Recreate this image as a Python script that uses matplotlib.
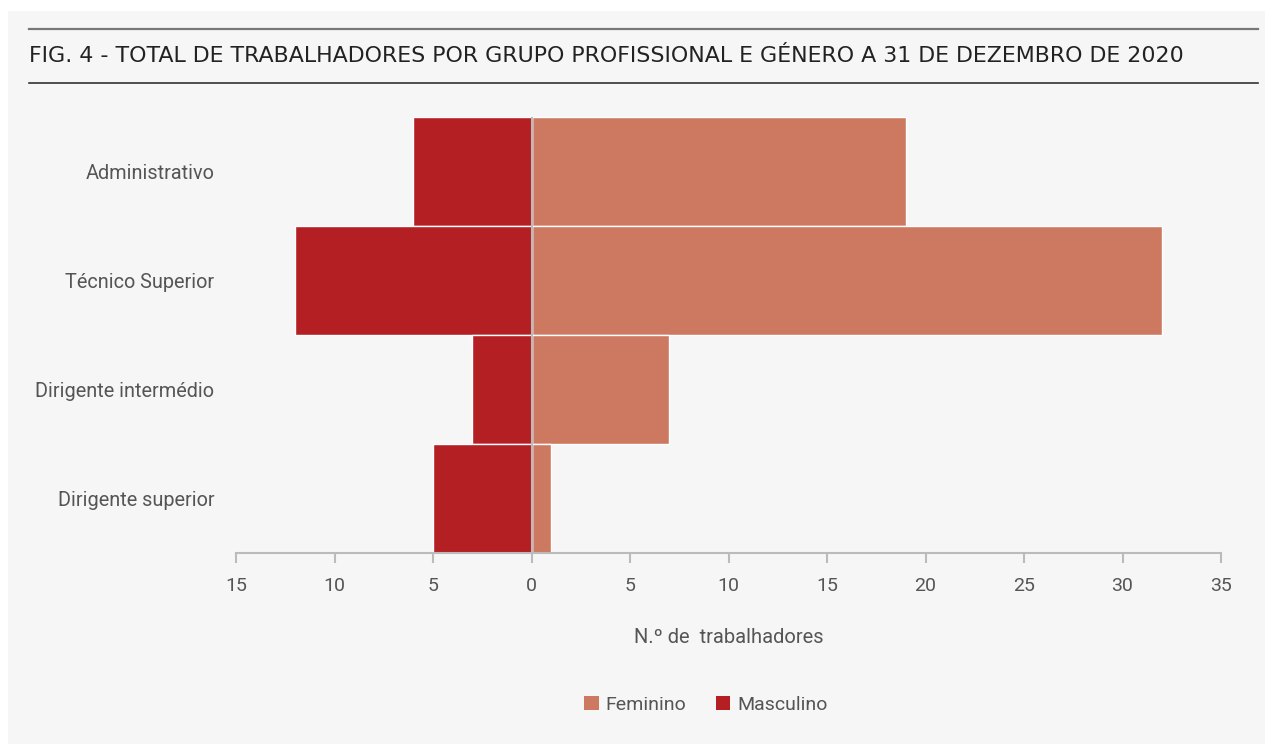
import matplotlib.pyplot as plt
from matplotlib.patches import Rectangle
from matplotlib.lines import Line2D

categories = ["Administrativo", "Técnico Superior", "Dirigente intermédio", "Dirigente superior"]
feminino = [19, 32, 7, 1]
masculino = [6, 12, 3, 5]
xticks = [-15, -10, -5, 0, 5, 10, 15, 20, 25, 30, 35]
xticklabels = ["15", "10", "5", "0", "5", "10", "15", "20", "25", "30", "35"]

W, H = 1265, 744
fig = plt.figure(figsize=(W / 100, H / 100), dpi=100)
fig.patch.set_facecolor("white")
fig.patches.append(Rectangle((8 / W, 0), 1 - 8 / W, 1 - 11 / H, transform=fig.transFigure,
                             facecolor="#f6f6f6", edgecolor="none", zorder=-5))
fig.add_artist(Line2D([29 / W, 1258 / W], [1 - 29 / H, 1 - 29 / H], color="#777777", lw=1.6))
fig.add_artist(Line2D([29 / W, 1258 / W], [1 - 83 / H, 1 - 83 / H], color="#333333", lw=1.2))
fig.text(29 / W, 1 - 56 / H, "FIG. 4 - TOTAL DE TRABALHADORES POR GRUPO PROFISSIONAL E GÉNERO A 31 DE DEZEMBRO DE 2020",
         fontsize=15.9, color="#222222", va="center", ha="left", family="DejaVu Sans")

ax = fig.add_axes([236 / W, 1 - 553 / H, (1221 - 236) / W, (553 - 117) / H])
ax.set_facecolor("none")
y = list(range(len(categories)))[::-1]
ax.barh(y, feminino, height=1.0, color="#cd7961", edgecolor="white", linewidth=1, label="Feminino")
ax.barh(y, [-m for m in masculino], height=1.0, color="#b41f24", edgecolor="white", linewidth=1, label="Masculino")
ax.axvline(0, color="#bbbbbb", lw=1.5)
ax.set_xlim(-15, 35)
ax.set_ylim(-0.5, 3.5)
for s in ["top", "right", "left"]:
    ax.spines[s].set_visible(False)
ax.spines["bottom"].set_color("#bbbbbb")
ax.spines["bottom"].set_linewidth(1.5)
ax.set_xticks(xticks)
ax.set_xticklabels(xticklabels)
ax.tick_params(axis="x", colors="#bbbbbb", length=7, width=1.5, labelcolor="#555555", labelsize=14, pad=10)
ax.set_yticks(y)
ax.set_yticklabels(categories)
ax.tick_params(axis="y", length=0, labelcolor="#555555", labelsize=14.3, pad=15.5)
for lab in ax.get_xticklabels() + ax.get_yticklabels():
    lab.set_family("Roboto")
ax.set_xlabel("N.º de  trabalhadores", fontsize=14.5, color="#555555", labelpad=24, family="Roboto")

handles, labels = ax.get_legend_handles_labels()
leg = fig.legend(handles, labels, loc="center", bbox_to_anchor=(706 / W, 1 - 705 / H), ncol=2, frameon=False,
                 handlelength=0.75, handleheight=0.75, handletextpad=0.35, columnspacing=1.5,
                 prop={"family": "Roboto", "size": 14})
for t in leg.get_texts():
    t.set_color("#555555")
for h in leg.legend_handles:
    h.set_edgecolor("none")

fig.savefig("out.png", dpi=100, facecolor="white")
